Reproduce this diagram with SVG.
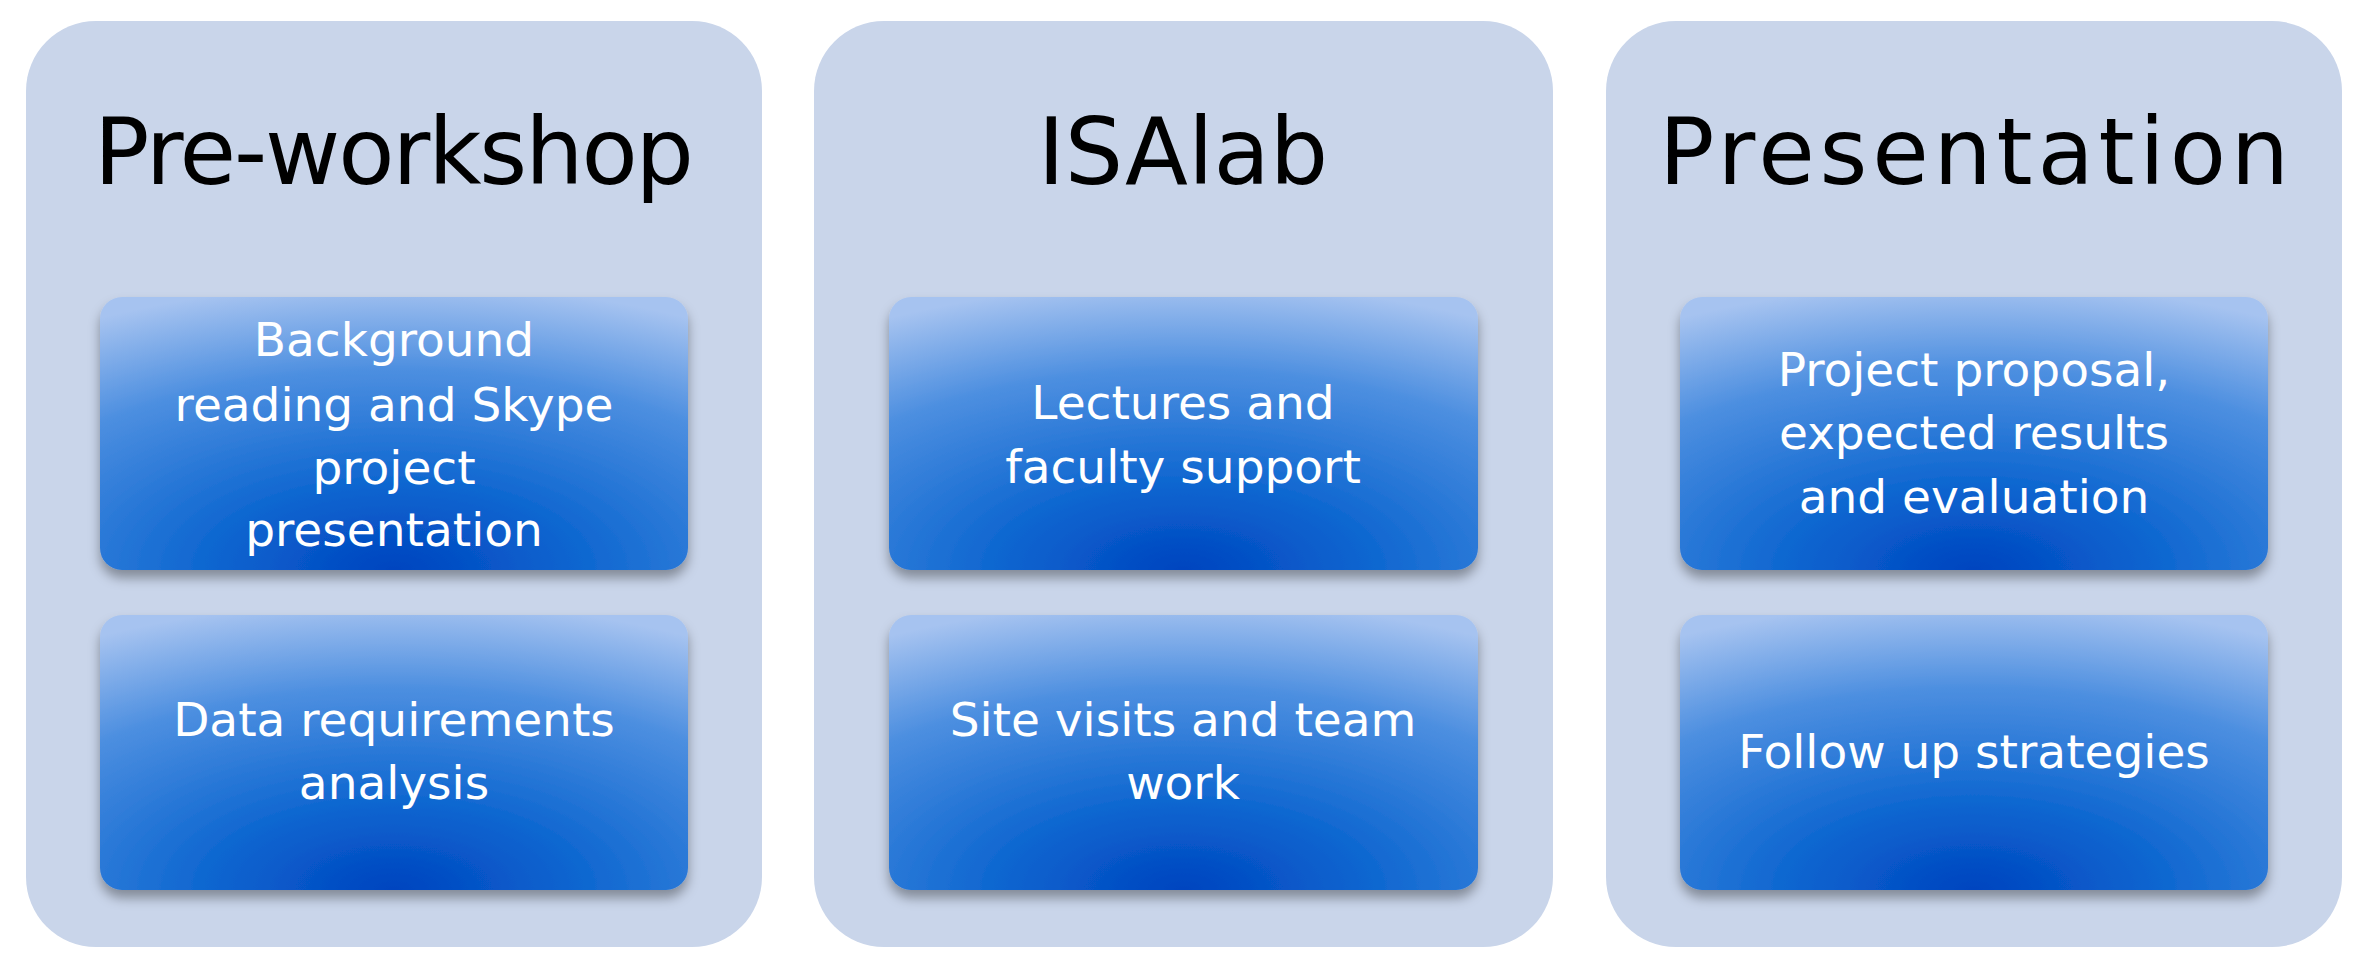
<svg xmlns="http://www.w3.org/2000/svg" width="2364" height="968" viewBox="0 0 2364 968">
<defs>
<radialGradient id="g" cx="0.5" cy="1" r="1.05" fx="0.5" fy="1">
<stop offset="0" stop-color="#0044bf"/>
<stop offset="0.3" stop-color="#0d66d0"/>
<stop offset="0.7" stop-color="#4d8fe0"/>
<stop offset="1" stop-color="#a6c3f0"/>
</radialGradient>
<filter id="sh" x="-10%" y="-10%" width="120%" height="130%">
<feDropShadow dx="0" dy="8" stdDeviation="6" flood-color="#000" flood-opacity="0.35"/>
</filter>
<style>
.panel{fill:#c9d5ea}
.box{fill:url(#g);filter:url(#sh)}
.t{font-family:"DejaVu Sans",sans-serif;font-size:92px;fill:#000;text-anchor:middle}
.w{font-family:"DejaVu Sans",sans-serif;font-size:47px;fill:#fff;text-anchor:middle}
</style>
</defs>
<g id="pre">
<rect class="panel" x="26" y="21" width="736" height="926" rx="70"/>
<text class="t" x="394" y="184" textLength="600">Pre-workshop</text>
<rect class="box" x="100" y="297" width="588" height="273" rx="22"/>
<text class="w" x="394" y="356">Background</text>
<text class="w" x="394" y="421">reading and Skype</text>
<text class="w" x="394" y="484">project</text>
<text class="w" x="394" y="546">presentation</text>
<rect class="box" x="100" y="615" width="588" height="275" rx="22"/>
<text class="w" x="394" y="736">Data requirements</text>
<text class="w" x="394" y="799">analysis</text>
</g>
<g id="isalab">
<rect class="panel" x="814" y="21" width="739" height="926" rx="70"/>
<text class="t" x="1183" y="184">ISAlab</text>
<rect class="box" x="889" y="297" width="589" height="273" rx="22"/>
<text class="w" x="1183" y="419">Lectures and</text>
<text class="w" x="1183" y="483">faculty support</text>
<rect class="box" x="889" y="615" width="589" height="275" rx="22"/>
<text class="w" x="1183" y="736">Site visits and team</text>
<text class="w" x="1183" y="799">work</text>
</g>
<g id="presentation">
<rect class="panel" x="1606" y="21" width="736" height="926" rx="70"/>
<text class="t" x="1974" y="184" textLength="630">Presentation</text>
<rect class="box" x="1680" y="297" width="588" height="273" rx="22"/>
<text class="w" x="1974" y="386">Project proposal,</text>
<text class="w" x="1974" y="449">expected results</text>
<text class="w" x="1974" y="513">and evaluation</text>
<rect class="box" x="1680" y="615" width="588" height="275" rx="22"/>
<text class="w" x="1974" y="768">Follow up strategies</text>
</g>
<g id="connectors"/>
</svg>
